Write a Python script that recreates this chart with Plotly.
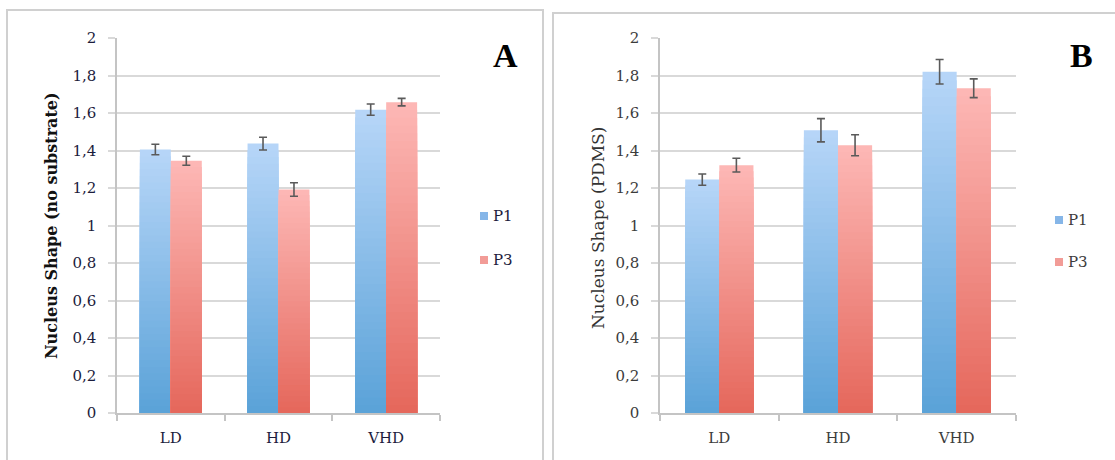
import plotly.graph_objects as go

# ---------------- data ----------------
categories = ["LD", "HD", "VHD"]
series_names = ["P1", "P3"]

a_p1 = [1.405, 1.437, 1.618]
a_p1_err = [0.028, 0.034, 0.030]
a_p3 = [1.345, 1.192, 1.658]
a_p3_err = [0.024, 0.036, 0.020]

b_p1 = [1.245, 1.508, 1.820]
b_p1_err = [0.030, 0.062, 0.065]
b_p3 = [1.322, 1.428, 1.732]
b_p3_err = [0.037, 0.056, 0.050]

y_tick_vals = [0, 0.2, 0.4, 0.6, 0.8, 1.0, 1.2, 1.4, 1.6, 1.8, 2.0]
y_tick_text = ["0", "0,2", "0,4", "0,6", "0,8", "1", "1,2", "1,4", "1,6", "1,8", "2"]

# ---------------- styling ----------------
W, H = 1115, 460
def px(x):
    return x / W
def py(y):
    return 1 - y / H

P1_TOP, P1_BOT = (183, 214, 248), (90, 162, 216)
P3_TOP, P3_BOT = (253, 184, 182), (229, 103, 91)
NSEG = 40

def mix(c_top, c_bot, f):
    # f = 1 at top, 0 at bottom
    r = [round(c_bot[i] + (c_top[i] - c_bot[i]) * f) for i in range(3)]
    return f"rgb({r[0]},{r[1]},{r[2]})"

fig = go.Figure()

panels = [
    dict(xa="x", ya="y", vals=[(a_p1, a_p1_err), (a_p3, a_p3_err)]),
    dict(xa="x2", ya="y2", vals=[(b_p1, b_p1_err), (b_p3, b_p3_err)]),
]
colors = [(P1_TOP, P1_BOT), (P3_TOP, P3_BOT)]

for pi, p in enumerate(panels):
    for si, (vals, errs) in enumerate(p["vals"]):
        ctop, cbot = colors[si]
        og = f"{pi}_{si}"
        # gradient: nested bars, tallest (lightest) first
        for k in range(NSEG):
            frac = (NSEG - k) / NSEG
            col = mix(ctop, cbot, (NSEG - k - 0.5) / NSEG)
            fig.add_trace(go.Bar(
                x=categories, y=[v * frac for v in vals],
                marker=dict(color=col, line=dict(width=0)),
                offsetgroup=og, xaxis=p["xa"], yaxis=p["ya"],
                showlegend=False, hoverinfo="skip", name=series_names[si],
            ))
        fig.add_trace(go.Bar(
            x=categories, y=vals, name=series_names[si],
            marker=dict(color="rgba(0,0,0,0)", line=dict(width=0)),
            error_y=dict(type="data", array=errs, color="#5a5a5a",
                         thickness=1.6, width=4),
            offsetgroup=og, xaxis=p["xa"], yaxis=p["ya"], showlegend=False,
        ))

GRID = "#d9d9d9"
AXL = "#c4c4c4"
COL_A = "#1c1c3c"
COL_B = "#3c3c3c"

def xaxis_cfg(dom, col, anchor):
    return dict(domain=dom, anchor=anchor, type="category", automargin=False,
                showline=True, linecolor=AXL, linewidth=1.5,
                ticks="outside", tickson="boundaries", ticklen=6,
                tickcolor=AXL, tickwidth=1.5, showgrid=False,
                ticklabelstandoff=10,
                tickfont=dict(family="DejaVu Serif", size=15, color=col))

def yaxis_cfg(dom, col, anchor):
    return dict(domain=dom, anchor=anchor, range=[0, 2], automargin=False,
                tickvals=y_tick_vals, ticktext=y_tick_text,
                showgrid=True, gridcolor=GRID, gridwidth=2,
                showline=True, linecolor=AXL, linewidth=1.5,
                ticks="outside", ticklen=7, tickcolor=GRID, tickwidth=2,
                zeroline=False, ticklabelstandoff=9,
                tickfont=dict(family="DejaVu Serif", size=15, color=col))

ydom = [py(413), py(38)]
fig.update_layout(
    width=W, height=H, autosize=False,
    margin=dict(l=0, r=0, t=0, b=0, pad=0),
    paper_bgcolor="white", plot_bgcolor="white",
    barmode="group", bargap=0.425, bargroupgap=0,
    showlegend=False,
    xaxis=xaxis_cfg([px(117), px(440)], COL_A, "y"),
    yaxis=yaxis_cfg(ydom, COL_A, "x"),
    xaxis2=xaxis_cfg([px(660), px(1016)], COL_B, "y2"),
    yaxis2=yaxis_cfg(ydom, COL_B, "x2"),
)

shapes = [
    # panel frames
    dict(type="rect", xref="paper", yref="paper", x0=px(7), x1=px(543),
         y0=py(470), y1=py(10), line=dict(color="#d0d0d0", width=2)),
    dict(type="rect", xref="paper", yref="paper", x0=px(553), x1=px(1130),
         y0=py(470), y1=py(13), line=dict(color="#d0d0d0", width=2)),
]
# legend swatches
legend_pos = [
    (480, [216, 260], COL_A),
    (1055, [220, 262], COL_B),
]
swatch_cols = ["#86b6e8", "#f29c97"]
annotations = []
for (lx, lys, tcol) in legend_pos:
    for i, ly in enumerate(lys):
        shapes.append(dict(type="rect", xref="paper", yref="paper",
                           x0=px(lx), x1=px(lx + 8), y0=py(ly + 4), y1=py(ly - 4),
                           fillcolor=swatch_cols[i], line=dict(width=0)))
        annotations.append(dict(xref="paper", yref="paper", x=px(lx + 11), y=py(ly),
                                text=series_names[i], showarrow=False,
                                xanchor="left", yanchor="middle",
                                font=dict(family="DejaVu Serif", size=15, color=tcol)))

annotations += [
    dict(xref="paper", yref="paper", x=px(51), y=py(226), textangle=-90,
         text="<b>Nucleus Shape (no substrate)</b>", showarrow=False,
         xanchor="center", yanchor="middle",
         font=dict(family="DejaVu Serif", size=16, color="#111111")),
    dict(xref="paper", yref="paper", x=px(598), y=py(228), textangle=-90,
         text="Nucleus Shape (PDMS)", showarrow=False,
         xanchor="center", yanchor="middle",
         font=dict(family="DejaVu Serif", size=17, color="#333333")),
    dict(xref="paper", yref="paper", x=px(505), y=py(56),
         text="<b>A</b>", showarrow=False, xanchor="center", yanchor="middle",
         font=dict(family="Liberation Serif", size=34, color="#000000")),
    dict(xref="paper", yref="paper", x=px(1081), y=py(56),
         text="<b>B</b>", showarrow=False, xanchor="center", yanchor="middle",
         font=dict(family="Liberation Serif", size=34, color="#000000")),
]
fig.update_layout(shapes=shapes, annotations=annotations)

fig.write_html("out.html")
